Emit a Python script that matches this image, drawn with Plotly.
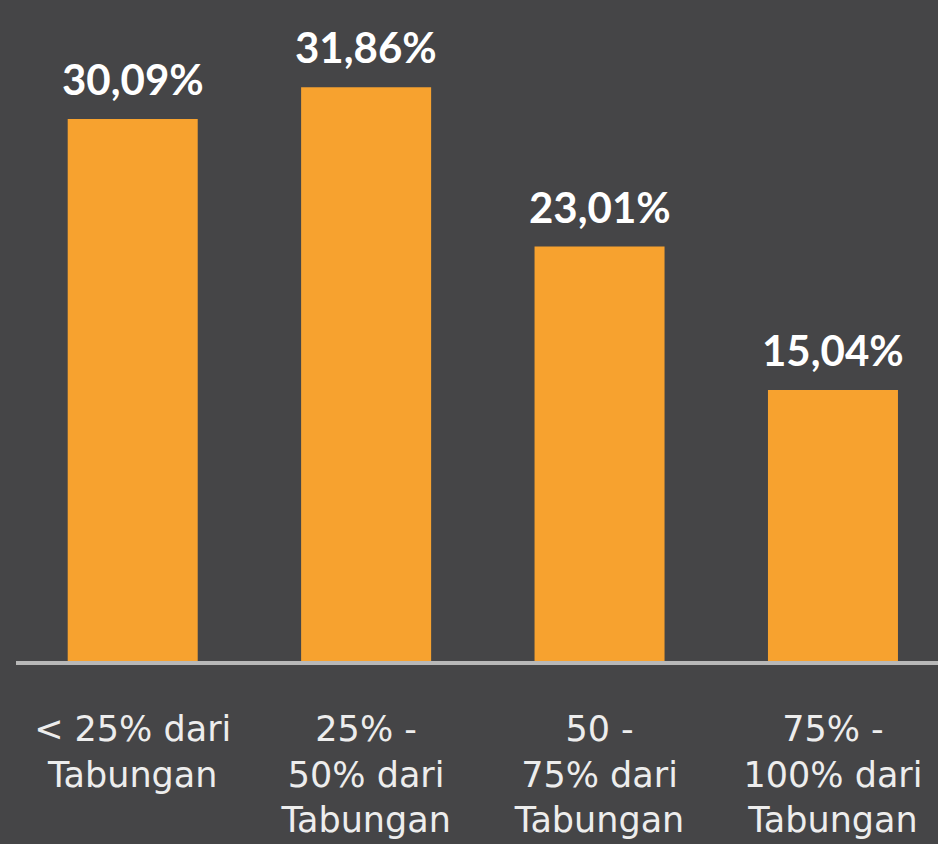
import plotly.graph_objects as go

categories = [
    "< 25% dari<br>Tabungan",
    "25% -<br>50% dari<br>Tabungan",
    "50 -<br>75% dari<br>Tabungan",
    "75% -<br>100% dari<br>Tabungan",
]
values = [30.09, 31.86, 23.01, 15.04]
value_labels = ["30,09%", "31,86%", "23,01%", "15,04%"]

BG = "#454547"
BAR = "#F7A22F"

fig = go.Figure()
fig.add_trace(go.Bar(
    x=categories,
    y=values,
    marker=dict(color=BAR, line=dict(width=0)),
    hoverinfo="skip",
))

for cat, val, lab in zip(categories, values, value_labels):
    fig.add_annotation(
        x=cat, y=val, xref="x", yref="y",
        text=lab, showarrow=False,
        yanchor="bottom", yshift=13,
        font=dict(family="Lato", size=42, color="#FFFFFF", weight="bold"),
    )

fig.update_layout(
    width=938, height=844,
    paper_bgcolor=BG, plot_bgcolor=BG,
    margin=dict(l=16, r=0, t=0, b=183),
    bargap=0.443,
    showlegend=False,
    xaxis=dict(
        range=[-0.5, 3.45],
        showline=True, linecolor="#B8B8B8", linewidth=4,
        showgrid=False, zeroline=False, ticks="",
        tickfont=dict(family="DejaVu Sans", size=35, color="#EDEDED"),
        ticklabelstandoff=34,
    ),
    yaxis=dict(
        range=[0, 36.7], visible=False, showgrid=False, zeroline=False,
    ),
)

fig.write_html("out.html", config={"displayModeBar": False, "staticPlot": True})

# remove the default page margin so the figure fills the window exactly
with open("out.html", "r", encoding="utf-8") as f:
    html = f.read()
html = html.replace(
    "<head>",
    "<head><style>html,body{margin:0;padding:0;background:#454547;overflow:hidden;}</style>",
    1,
)
with open("out.html", "w", encoding="utf-8") as f:
    f.write(html)
